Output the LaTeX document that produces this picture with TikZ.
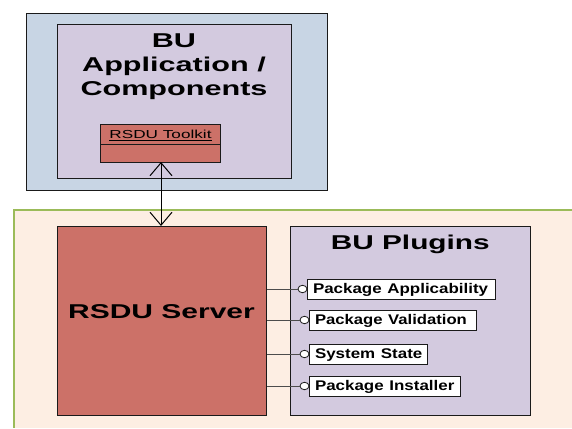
\documentclass[tikz,border=0pt]{standalone}
\usepackage{fontspec}
\setmainfont{Liberation Sans}
\usepackage{graphicx}
\usetikzlibrary{arrows.meta,shapes.geometric}
\definecolor{outerblue}{HTML}{C8D5E4}
\definecolor{lilac}{HTML}{D3CADF}
\definecolor{redbox}{HTML}{CC7168}
\definecolor{peach}{HTML}{FDEEE3}
\definecolor{leaf}{HTML}{9BBB59}
\definecolor{boxline}{HTML}{1A1A1A}
\newcommand\hstr[2]{\scalebox{#1}[1]{#2}}
\begin{document}
\begin{tikzpicture}[x=1pt,y=-1pt,
  box/.style={draw=boxline, line width=1pt, inner sep=0pt, anchor=north west},
  bigtitle/.style={anchor=base, inner sep=0pt, font=\fontsize{20}{24}\selectfont\bfseries},
  plug/.style={draw=boxline, fill=white, line width=1pt, anchor=north west, inner xsep=5.5pt, inner ysep=0pt,
    text height=14.3pt, text depth=5.7pt, align=left, font=\fontsize{14}{16}\selectfont\bfseries},
  port/.style={ellipse, draw=boxline, fill=white, line width=0.8pt, minimum width=9pt, minimum height=7.5pt, inner sep=0pt},
  conn/.style={draw=black!70, line width=1pt},
  barb/.style={{Straight Barb[length=13pt,width=22pt]}-{Straight Barb[length=13pt,width=22pt]}, line width=1pt}
]
\useasboundingbox (0,0) rectangle (572,428);
\fill[white] (0,0) rectangle (572,428);

% lower region
\fill[peach] (14,210) rectangle (572,428);
\draw[leaf, line width=1.5pt] (572,210) -- (14,210) -- (14,428);

% upper application block
\node[box, fill=outerblue, minimum width=301pt, minimum height=177pt] (outer) at (26,13) {};
\node[box, fill=lilac, minimum width=234pt, minimum height=154pt] (app) at (57,24) {};
\node[bigtitle] (t1) at (174,47.5) {\hstr{1.53}{BU}};
\node[bigtitle] (t2) at (174,71) {\hstr{1.53}{Application /}};
\node[bigtitle] (t3) at (174,95) {\hstr{1.53}{Components}};

\node[box, fill=redbox, minimum width=120pt, minimum height=20pt, text height=14.3pt, text depth=5.7pt,
  font=\fontsize{11.6}{13}\selectfont] (tk) at (100,124) {\underline{\hstr{1.48}{RSDU Toolkit}}};
\node[box, fill=redbox, minimum width=120pt, minimum height=18pt] (tkb) at (100,144) {};

% server
\node[box, fill=redbox, minimum width=209pt, minimum height=189pt] (server) at (57,226) {};
\node[bigtitle] (st) at (161.5,318.5) {\hstr{1.50}{RSDU Server}};

% plugins
\node[box, fill=lilac, minimum width=240pt, minimum height=189pt] (plugins) at (290,226) {};
\node[bigtitle] (pt) at (410.3,249.3) {\hstr{1.49}{BU Plugins}};

\node[plug, text width=177pt] (p1) at (307,279) {\hstr{1.21}{Package Applicability}};
\node[plug, text width=156pt] (p2) at (309,310) {\hstr{1.19}{Package Validation}};
\node[plug, text width=107pt] (p3) at (309,344) {\hstr{1.21}{System State}};
\node[plug, text width=140pt] (p4) at (309,376) {\hstr{1.21}{Package Installer}};

\node[port] (c1) at (302.5,289) {};
\node[port] (c2) at (304.5,320) {};
\node[port] (c3) at (304.5,354) {};
\node[port] (c4) at (304.5,386) {};

\draw[conn] (server.east |- c1) -- (c1.west);
\draw[conn] (server.east |- c2) -- (c2.west);
\draw[conn] (server.east |- c3) -- (c3.west);
\draw[conn] (server.east |- c4) -- (c4.west);

% arrow between toolkit and server
\draw[barb] (161,162) coordinate (a1) -- (161,226) coordinate (a2);
\end{tikzpicture}
\end{document}
